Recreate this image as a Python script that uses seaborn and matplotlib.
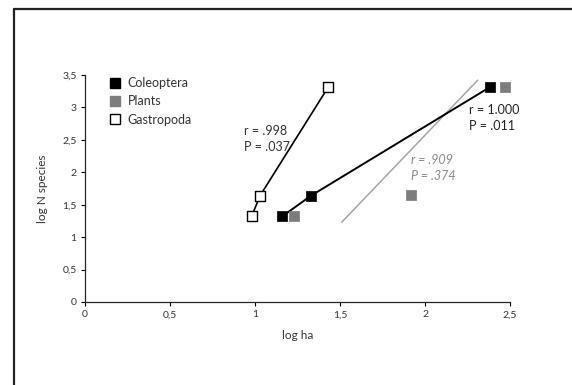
import numpy as np
import pandas as pd
import matplotlib
matplotlib.use('Agg')
import matplotlib.pyplot as plt
import seaborn as sns
from matplotlib.lines import Line2D

# data
cole_x = [1.16, 1.33, 2.38]
cole_y = [1.32, 1.64, 3.31]
plant_x = [1.23, 1.92, 2.47]
plant_y = [1.32, 1.65, 3.31]
gastro_x = [0.98, 1.03, 1.43]
gastro_y = [1.32, 1.64, 3.31]
# gray trend line for Plants (endpoints as drawn)
trend_x = [1.51, 2.31]
trend_y = [1.23, 3.42]

xticks = [0, 0.5, 1, 1.5, 2, 2.5]
xtick_labels = ['0', '0,5', '1', '1,5', '2', '2,5']
yticks = [0, 0.5, 1, 1.5, 2, 2.5, 3, 3.5]
ytick_labels = ['0', '0,5', '1', '1,5', '2', '2,5', '3', '3,5']

sns.set_style('ticks')
plt.rcParams['font.family'] = ['Lato', 'DejaVu Sans']

fig = plt.figure(figsize=(5.72, 3.85), dpi=100)
ax = fig.add_axes([0.1486, 0.2156, 0.743, 0.5896])

# frame around the figure (only top and left edges visible)
fx = 13.5 / 572
fy = 1 - 8.5 / 385
fig.lines.append(Line2D([fx, 1.0], [fy, fy], transform=fig.transFigure, color='#222222', lw=1.6))
fig.lines.append(Line2D([fx, fx], [0.0, fy], transform=fig.transFigure, color='#222222', lw=1.6))

cole = pd.DataFrame({'x': cole_x, 'y': cole_y})
plants = pd.DataFrame({'x': plant_x, 'y': plant_y})
gastro = pd.DataFrame({'x': gastro_x, 'y': gastro_y})
trend = pd.DataFrame({'x': trend_x, 'y': trend_y})

sns.lineplot(data=trend, x='x', y='y', ax=ax, color='#a5a5a5', lw=1.1, sort=False)
sns.lineplot(data=cole, x='x', y='y', ax=ax, color='black', lw=1.4, sort=False)
sns.lineplot(data=gastro, x='x', y='y', ax=ax, color='black', lw=1.2, sort=False)

sns.scatterplot(data=plants, x='x', y='y', ax=ax, marker='s', s=48, color='#7d7d7d',
                edgecolor='#7d7d7d', linewidth=0.5, zorder=3)
sns.scatterplot(data=cole, x='x', y='y', ax=ax, marker='s', s=48, color='black',
                edgecolor='black', linewidth=0.5, zorder=4)
sns.scatterplot(data=gastro, x='x', y='y', ax=ax, marker='s', s=42, color='white',
                edgecolor='black', linewidth=1.0, zorder=4)

ax.set_xlim(0, 2.5)
ax.set_ylim(0, 3.5)
ax.set_xticks(xticks)
ax.set_xticklabels(xtick_labels)
ax.set_yticks(yticks)
ax.set_yticklabels(ytick_labels)
ax.tick_params(labelsize=7.5, colors='#333333', length=3, width=0.8, pad=3)
ax.tick_params(axis='both', color='black')
for s in ['left', 'bottom']:
    ax.spines[s].set_linewidth(0.9)
sns.despine(ax=ax)
ax.set_xlabel('log ha', fontsize=8.5, color='#333333', labelpad=8)
ax.set_ylabel('log N species', fontsize=8.5, color='#333333', labelpad=10)

# annotations
ax.text(0.935, 2.52, 'r = .998\nP = .037', fontsize=9, color='#333333',
        linespacing=1.4, va='center', ha='left')
ax.text(2.26, 2.83, 'r = 1.000\nP = .011', fontsize=9, color='#222222',
        linespacing=1.4, va='center', ha='left')
ax.text(1.92, 2.07, 'r = .909\nP = .374', fontsize=9, color='#8a8a8a',
        linespacing=1.4, va='center', ha='left', style='italic')

handles = [
    Line2D([], [], marker='s', ls='none', color='black', markersize=6.5),
    Line2D([], [], marker='s', ls='none', color='#7d7d7d', markersize=6.5),
    Line2D([], [], marker='s', ls='none', markerfacecolor='white',
           markeredgecolor='black', markersize=6.5),
]
ax.legend(handles, ['Coleoptera', 'Plants', 'Gastropoda'], loc='upper left',
          bbox_to_anchor=(0.03, 1.04), frameon=False, fontsize=9,
          handletextpad=0.5, labelspacing=0.5, handlelength=1.0, labelcolor='#333333')

fig.savefig('out.png', dpi=100)
